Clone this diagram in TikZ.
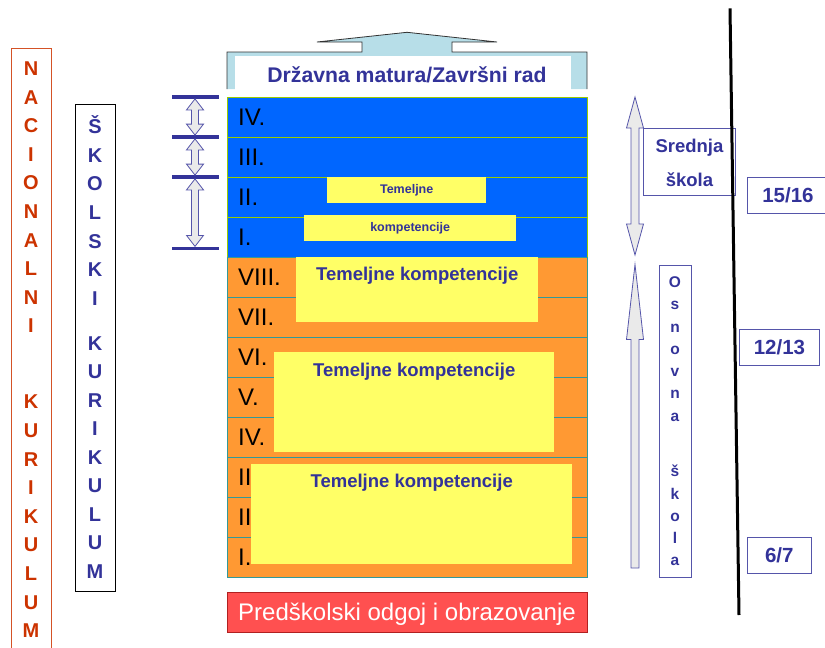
\documentclass[tikz,border=0pt]{standalone}
\usepackage{fontspec}
\setmainfont{Liberation Sans}
\usetikzlibrary{calc}

\definecolor{rowblue}{HTML}{0066FF}
\definecolor{roworange}{HTML}{FF9933}
\definecolor{boxyellow}{HTML}{FFFF66}
\definecolor{navy}{HTML}{333399}
\definecolor{limeline}{HTML}{99CC00}
\definecolor{tealline}{HTML}{339999}
\definecolor{capcyan}{HTML}{B7DEE8}
\definecolor{prered}{HTML}{FF5050}
\definecolor{predark}{HTML}{B02020}
\definecolor{rusttext}{HTML}{CC3300}
\definecolor{arrowfill}{HTML}{EAEAEA}
\definecolor{frameblue}{HTML}{5555AA}

\tikzset{
  bluerow/.style={draw=limeline, fill=rowblue, minimum width=360pt, minimum height=40pt,
    inner sep=0pt, anchor=north west},
  orangerow/.style={draw=tealline, fill=roworange, minimum width=360pt, minimum height=40pt,
    inner sep=0pt, anchor=north west},
  rowlbl/.style={anchor=west, inner sep=0pt, font=\fontsize{24}{28}\selectfont},
  ybox/.style={fill=boxyellow, inner sep=0pt, anchor=north west},
  kompt/.style={text=navy, inner sep=0pt, anchor=base, font=\bfseries\fontsize{18.5}{22}\selectfont},
  komptsmall/.style={text=navy, inner sep=0pt, font=\bfseries\fontsize{12.5}{15}\selectfont},
  bar/.style={fill=navy, minimum width=47pt, minimum height=3.4pt, inner sep=0pt},
  blockarr/.style={draw=frameblue, fill=arrowfill, line width=0.8pt, line join=miter},
  framebox/.style={draw=frameblue, line width=0.9pt, inner sep=0pt, anchor=north west},
  bluetxt/.style={text=navy, inner sep=0pt, font=\bfseries\fontsize{18.5}{22}\selectfont},
  numtxt/.style={text=navy, inner sep=0pt, font=\bfseries\fontsize{20.5}{24}\selectfont},
  redletter/.style={text=rusttext, anchor=base, inner sep=0pt, font=\bfseries\fontsize{20}{24}\selectfont},
  navyletter/.style={text=navy, anchor=base, inner sep=0pt, font=\bfseries\fontsize{20}{24}\selectfont},
  osletter/.style={text=navy, anchor=base, inner sep=0pt, font=\bfseries\fontsize{15.5}{18}\selectfont},
}

% double block arrow between (#1) above and (#2) below
\newcommand{\dblblock}[5]{%
  \draw[blockarr] let \p1=(#1), \p2=(#2) in
    (\x1,\y1) -- ({\x1+#3},{\y1-#5}) -- ({\x1+#4},{\y1-#5}) -- ({\x1+#4},{\y2+#5})
    -- ({\x1+#3},{\y2+#5}) -- (\x1,\y2) -- ({\x1-#3},{\y2+#5}) -- ({\x1-#4},{\y2+#5})
    -- ({\x1-#4},{\y1-#5}) -- ({\x1-#3},{\y1-#5}) -- cycle;}
% single block arrow, tip at (#1), tail at (#2)
\newcommand{\upblock}[5]{%
  \draw[blockarr] let \p1=(#1), \p2=(#2) in
    (\x1,\y1) -- ({\x1+#3},{\y1-#5}) -- ({\x1+#4},{\y1-#5}) -- ({\x1+#4},\y2)
    -- ({\x1-#4},\y2) -- ({\x1-#4},{\y1-#5}) -- ({\x1-#3},{\y1-#5}) -- cycle;}

\begin{document}
\begin{tikzpicture}[x=1pt,y=-1pt]
  \useasboundingbox (0,0) rectangle (825,648);

  % Nacionalni / Skolski kurikulum
  \node[draw=rusttext!85, line width=0.9pt, minimum width=40pt, minimum height=620pt,
    inner sep=0pt, anchor=north west] (nk) at (11,48.3) {};
  \foreach \c [count=\k from 0] in {N,A,C,I,O,N,A,L,N,I}
    \node[redletter] (na\k) at (31,{75.5+28.6*\k}) {\c};
  \foreach \c [count=\k from 0] in {K,U,R,I,K,U,L,U,M}
    \node[redletter] (nb\k) at (31,{408.9+28.6*\k}) {\c};

  \node[draw=black, line width=1pt, minimum width=40pt, minimum height=486.4pt,
    inner sep=0pt, anchor=north west] (sk) at (75,104.3) {};
  \foreach \c [count=\k from 0] in {Š,K,O,L,S,K,I}
    \node[navyletter] (sa\k) at (95,{133.6+28.6*\k}) {\c};
  \foreach \c [count=\k from 0] in {K,U,R,I,K,U,L,U,M}
    \node[navyletter] (sb\k) at (95,{350.2+28.5*\k}) {\c};

  % Drzavna matura
  \filldraw[fill=capcyan, draw=black!80, line width=0.8pt] (227,89) -- (227,52) -- (362,52)
    -- (362,42) -- (317,42) -- (407,32.3) -- (497,42) -- (452,42) -- (452,52) -- (587,52) -- (587,89);
  \node[fill=white, minimum width=336pt, minimum height=35pt, inner sep=0pt, anchor=north west]
    (dm) at (235,56) {};
  \node[bluetxt, font=\bfseries\fontsize{21.2}{24}\selectfont, anchor=base] (dmt) at (407,82.7)
    {Državna matura/Završni rad};

  % razredi
  \foreach \r [count=\i from 0] in {IV.,III.,II.,I.}{
    \node[bluerow] (sr\i) at (227,{97+40*\i}) {};
    \node[rowlbl] (srl\i) at ([xshift=11pt]sr\i.west) {\r};
  }
  \foreach \r [count=\i from 0] in {VIII.,VII.,VI.,V.,IV.,III.,II.,I.}{
    \node[orangerow] (or\i) at (227,{257+40*\i}) {};
    \node[rowlbl] (orl\i) at ([xshift=11pt]or\i.west) {\r};
  }

  % temeljne kompetencije
  \node[ybox, minimum width=159pt, minimum height=26pt] (tb1) at (327,177) {};
  \node[komptsmall] (tbt1) at (tb1) {Temeljne};
  \node[ybox, minimum width=212pt, minimum height=26pt] (tb2) at (304,215) {};
  \node[komptsmall] (tbt2) at (tb2) {kompetencije};

  \node[ybox, minimum width=242pt, minimum height=65pt] (k1) at (296,257) {};
  \node[kompt] (kt1) at ([yshift=-23.7pt]k1.north) {Temeljne kompetencije};
  \node[ybox, minimum width=280pt, minimum height=100pt] (k2) at (274,352) {};
  \node[kompt] (kt2) at ([yshift=-24pt]k2.north) {Temeljne kompetencije};
  \node[ybox, minimum width=321pt, minimum height=100pt] (k3) at (251,464) {};
  \node[kompt] (kt3) at ([yshift=-23.3pt]k3.north) {Temeljne kompetencije};

  % predskolski
  \node[draw=predark, fill=prered, line width=0.9pt, minimum width=360pt, minimum height=40pt,
    inner sep=0pt, text=white, text height=17.2pt, text depth=0pt,
    font=\fontsize{24}{28}\selectfont] (pre) at (407,612.3) {Predškolski odgoj i obrazovanje};

  % lijeve oznake
  \node[bar] (b1) at (195,97) {};
  \node[bar] (b2) at (195,137) {};
  \node[bar] (b3) at (195,177) {};
  \node[bar] (b4) at (195,248.3) {};
  \dblblock{b1.south}{b2.north}{8.5pt}{3.5pt}{11pt}
  \dblblock{b2.south}{b3.north}{8.5pt}{3.5pt}{11pt}
  \dblblock{b3.south}{b4.north}{8.5pt}{3.5pt}{11pt}

  % desno
  \coordinate (st) at (635,97);
  \coordinate (sb) at (635,255);
  \coordinate (ot) at (635,264.5);
  \coordinate (ob) at (635,568);
  \dblblock{st}{sb}{8.5pt}{4pt}{31pt}
  \upblock{ot}{ob}{8.5pt}{4pt}{75pt}

  \node[framebox, minimum width=92pt, minimum height=67pt] (ss) at (643,128.3) {};
  \node[bluetxt, anchor=base] (sst1) at ([yshift=-24.4pt]ss.north) {Srednja};
  \node[bluetxt, anchor=base] (sst2) at ([yshift=-57.7pt]ss.north) {škola};

  \draw[line width=3pt] (730,8.3) -- (739,615);

  \node[framebox, minimum width=32pt, minimum height=311.7pt] (os) at (659,265) {};
  \foreach \c [count=\k from 0] in {O,s,n,o,v,n,a}
    \node[osletter] (oa\k) at (675,{287.4+22.3*\k}) {\c};
  \foreach \c [count=\k from 0] in {š,k,o,l,a}
    \node[osletter] (ob\k) at (675,{476.7+22.3*\k}) {\c};

  \node[framebox, minimum width=81pt, minimum height=36pt] (g15) at (747,176.7) {};
  \node[numtxt, text height=14.7pt] (g15t) at (g15) {15/16};
  \node[framebox, minimum width=80pt, minimum height=36pt] (g12) at (739,329) {};
  \node[numtxt, text height=14.7pt] (g12t) at (g12) {12/13};
  \node[framebox, minimum width=64.3pt, minimum height=36pt] (g6) at (746.7,536.7) {};
  \node[numtxt, text height=14.7pt] (g6t) at (g6) {6/7};
\end{tikzpicture}
\end{document}
